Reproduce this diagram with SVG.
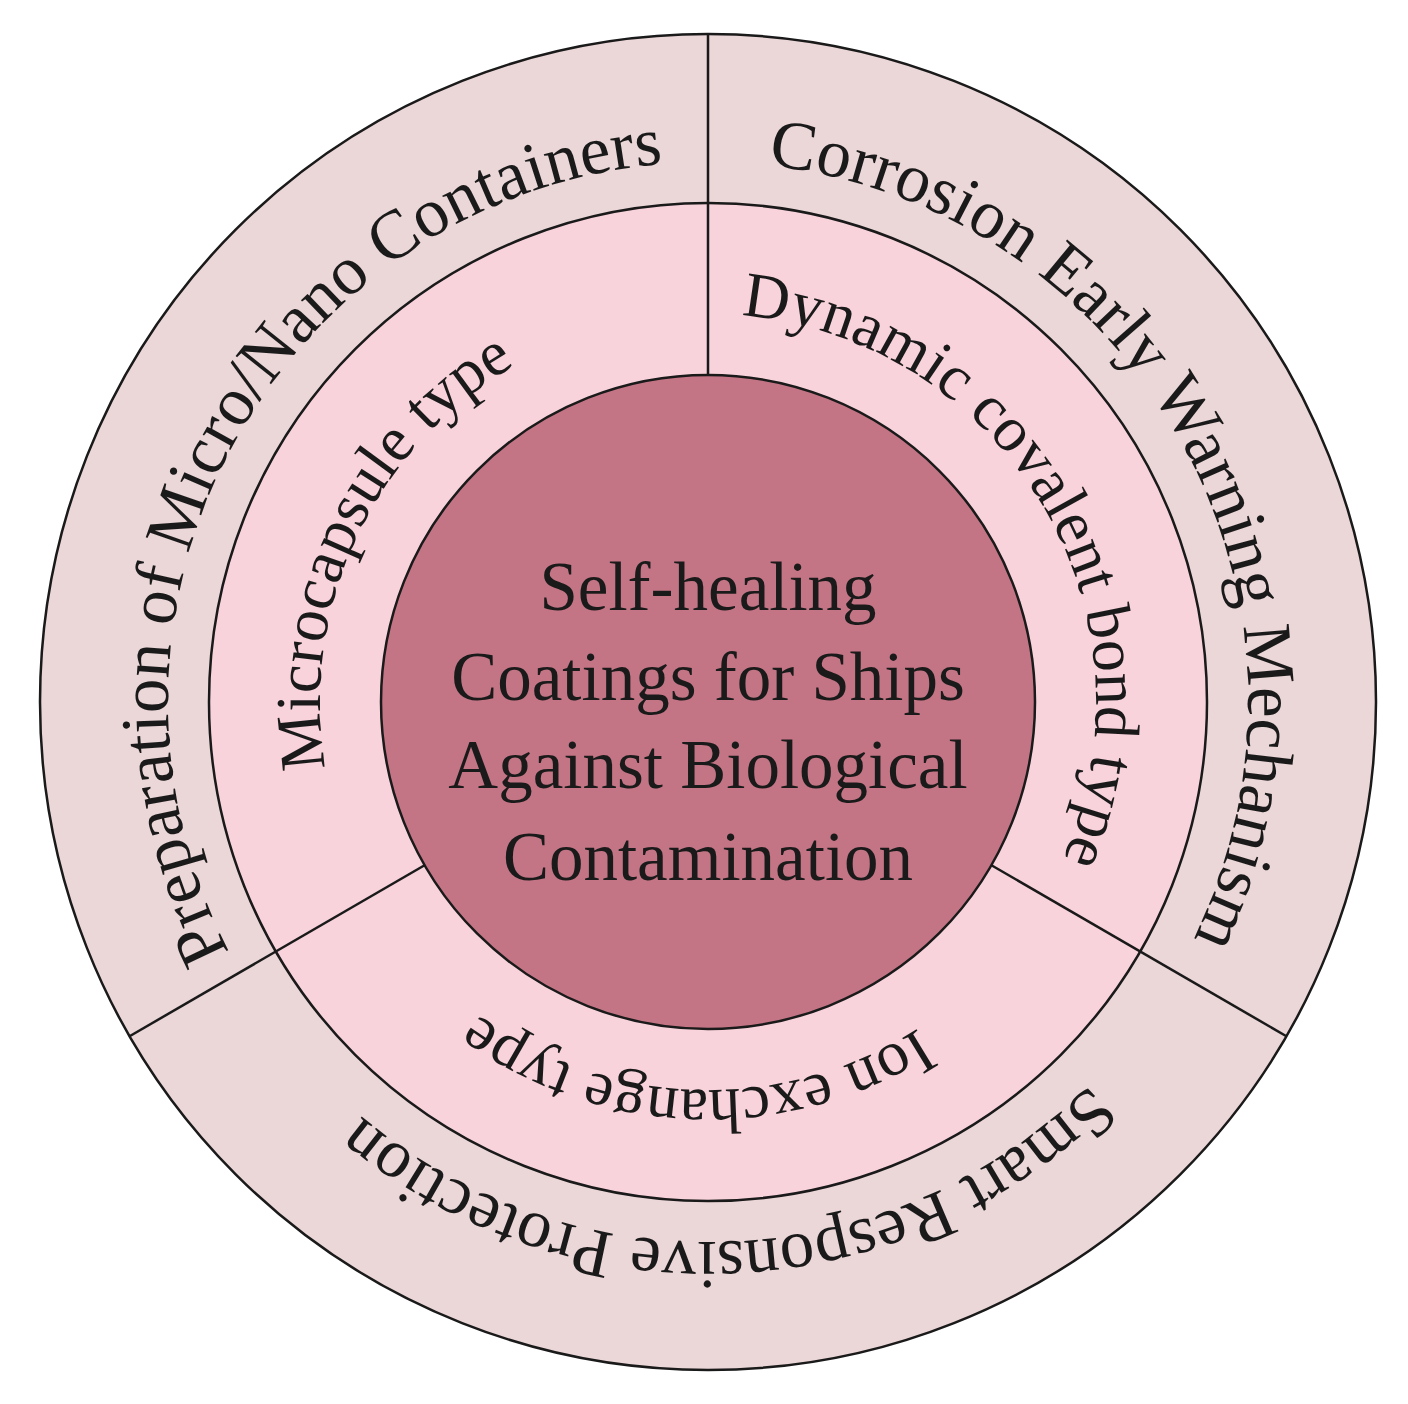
<svg xmlns="http://www.w3.org/2000/svg" width="1408" height="1404" viewBox="0 0 1408 1404">
<style>
.t{font-family:"Liberation Serif",serif;fill:#1a1a1a}
.o{font-size:69px}
.m{font-size:64px}
.c{font-size:69px;text-anchor:middle}
.ring{stroke:#1a1a1a;stroke-width:2.5}
</style>
<defs>
<path id="oT" d="M708,162 A540,540 0 1 1 708,1242 A540,540 0 1 1 708,162"/>
<path id="oB" d="M708,1242 A540,540 0 1 1 708,162 A540,540 0 1 1 708,1242"/>
<path id="mT" d="M708,314 A388,388 0 1 1 708,1090 A388,388 0 1 1 708,314"/>
<path id="mB" d="M708,1090 A388,388 0 1 1 708,314 A388,388 0 1 1 708,1090"/>
</defs>
<rect width="1408" height="1404" fill="#fff"/>
<g id="outer">
<circle class="ring" cx="708" cy="702" r="668" fill="#ebd6d8"/>
<text class="t o" text-anchor="middle"><textPath href="#oT" startOffset="17%">Corrosion Early Warning Mechanism</textPath></text>
<text class="t o" text-anchor="middle"><textPath href="#oB" startOffset="33%">Preparation of Micro/Nano Containers</textPath></text>
<text class="t o" text-anchor="middle"><textPath href="#oT" startOffset="49.3%">Smart Responsive Protection</textPath></text>
</g>
<g id="middle">
<circle class="ring" cx="708" cy="702" r="499" fill="#f9d3dc"/>
<text class="t m" text-anchor="middle"><textPath href="#mT" startOffset="16.5%">Dynamic covalent bond type</textPath></text>
<text class="t m" text-anchor="middle"><textPath href="#mB" startOffset="32%">Microcapsule type</textPath></text>
<text class="t m" text-anchor="middle"><textPath href="#mT" startOffset="50.5%">Ion exchange type</textPath></text>
</g>
<g id="connectors" stroke="#1a1a1a" stroke-width="2.5">
<line x1="708" y1="34" x2="708" y2="375"/>
<line x1="991" y1="865" x2="1286" y2="1036"/>
<line x1="425" y1="865" x2="130" y2="1036"/>
</g>
<g id="center">
<circle class="ring" cx="708" cy="702" r="327" fill="#c47585"/>
<text class="t c" x="708" y="610">Self-healing</text>
<text class="t c" x="708" y="700">Coatings for Ships</text>
<text class="t c" x="708" y="788">Against Biological</text>
<text class="t c" x="708" y="880">Contamination</text>
</g>
</svg>
